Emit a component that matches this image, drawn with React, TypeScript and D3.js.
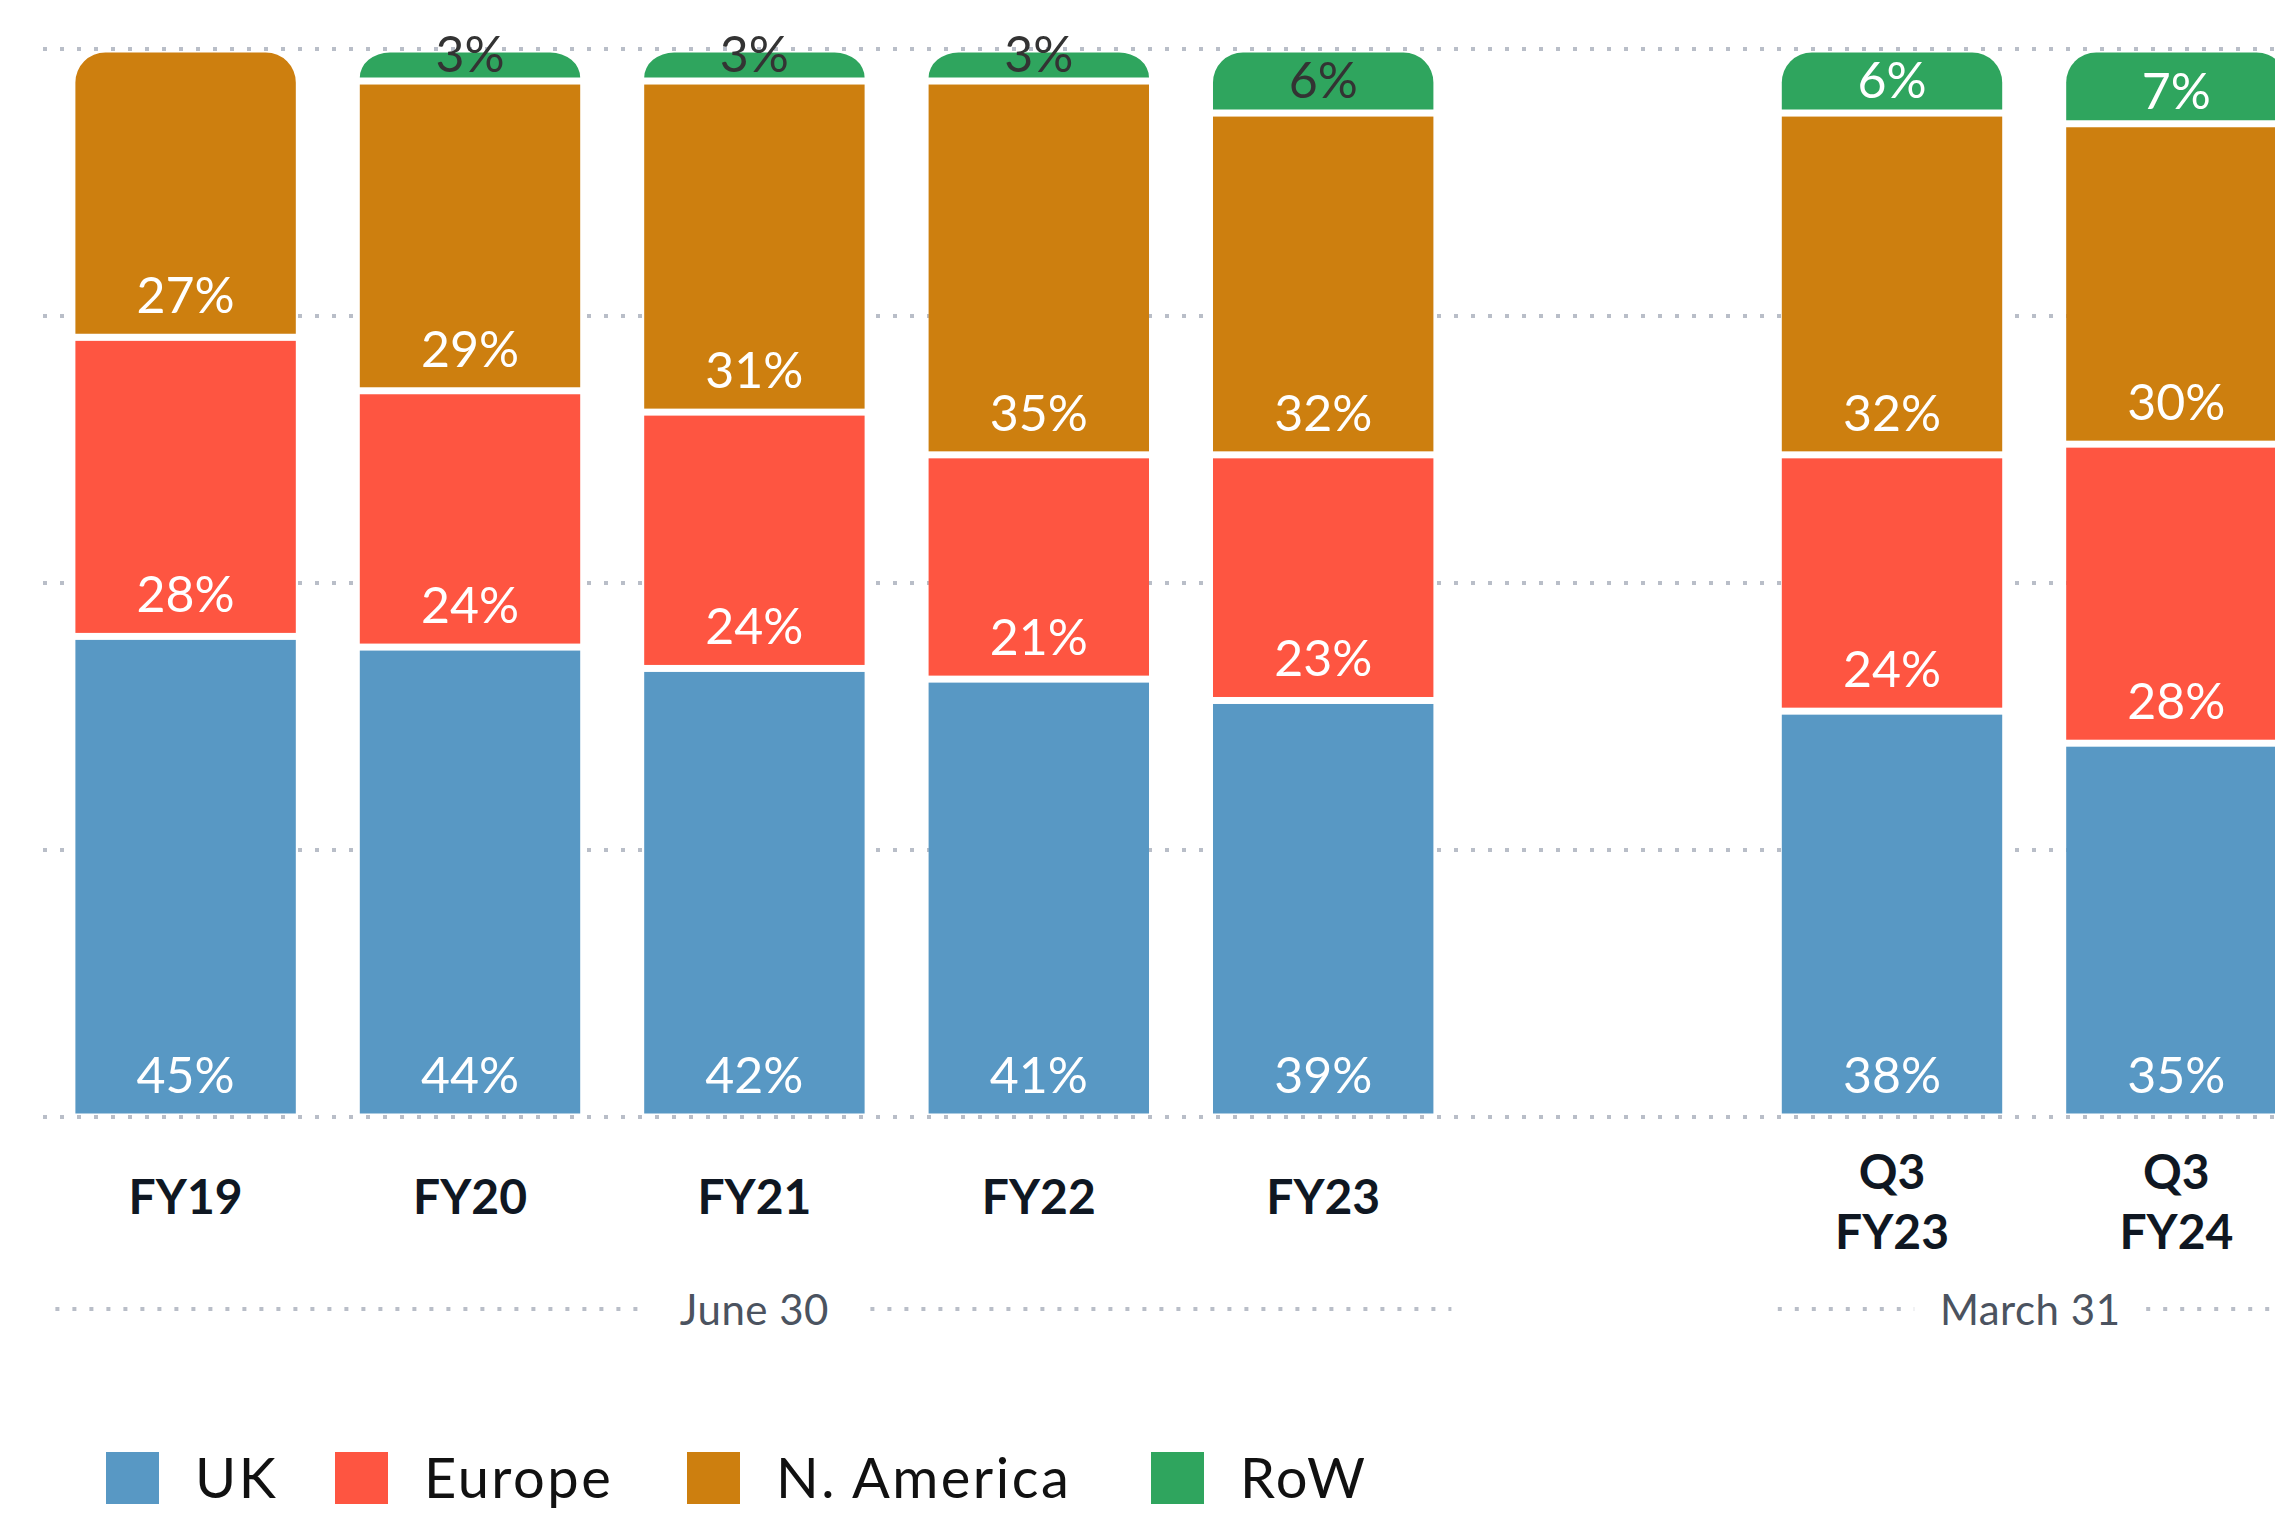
import React, { useEffect } from "react";
import * as d3 from "d3";

// ---------- data ----------
const categories = ["FY19", "FY20", "FY21", "FY22", "FY23", "Q3 FY23", "Q3 FY24"];
const periodOf = ["June 30", "June 30", "June 30", "June 30", "June 30", "March 31", "March 31"];
const periods = ["June 30", "March 31"];
const seriesNames = ["UK", "Europe", "N. America", "RoW"];
const ukValues = [45, 44, 42, 41, 39, 38, 35];
const europeValues = [28, 24, 24, 21, 23, 24, 28];
const nAmericaValues = [27, 29, 31, 35, 32, 32, 30];
const rowValues = [0, 3, 3, 3, 6, 6, 7];
const yTicks = [0, 25, 50, 75, 100];
const seriesColors = ["#5898c4", "#fe5541", "#cd7f0f", "#2fa55e"];
const legendX = [106, 335, 687, 1151];

// ---------- layout ----------
const W = 2275;
const H = 1523;
const FONT = "Lato, 'Open Sans', 'Noto Sans', sans-serif";
const GAP = 3.5;

function topRoundedPath(x: number, y0: number, w: number, h: number, r: number) {
  const rx = Math.min(r, w / 2);
  const ry = Math.min(r, h);
  const y1 = y0 + h;
  return `M${x},${y1}L${x},${y0 + ry}A${rx},${ry} 0 0 1 ${x + rx},${y0}L${x + w - rx},${y0}A${rx},${ry} 0 0 1 ${x + w},${y0 + ry}L${x + w},${y1}Z`;
}

export default function App() {
  useEffect(() => {
    document.body.style.margin = "0";
    document.body.style.overflow = "hidden";
  }, []);

  const rows = categories.map((c, i) => ({
    cat: c,
    period: periodOf[i],
    UK: ukValues[i],
    Europe: europeValues[i],
    "N. America": nAmericaValues[i],
    RoW: rowValues[i],
  }));

  // band slots: periods separated by an empty slot
  const slots: string[] = [];
  periods.forEach((p, pi) => {
    if (pi > 0) slots.push(`__gap${pi}`);
    categories.forEach((c, i) => {
      if (periodOf[i] === p) slots.push(c);
    });
  });

  const x = d3
    .scaleBand<string>()
    .domain(slots)
    .range([43.4, 2318.6])
    .paddingInner(0.225)
    .paddingOuter(0.1125);
  const bw = x.bandwidth();
  const y = d3.scaleLinear().domain([0, 100]).range([1117, 49]);

  const stacked = d3.stack<any>().keys(seriesNames)(rows);

  const topIdx = rows.map((r) => {
    let t = 0;
    seriesNames.forEach((s, si) => {
      if ((r as any)[s] > 0) t = si;
    });
    return t;
  });

  const gridX0 = 43;

  return (
    <svg
      width={W}
      height={H}
      viewBox={`0 0 ${W} ${H}`}
      style={{ position: "absolute", left: 0, top: 0, background: "#fff" }}
      fontFamily={FONT}
    >
      <rect x={0} y={0} width={W} height={H} fill="#fff" />
      {/* gridlines */}
      <g>
        {yTicks.map((t) => (
          <line
            key={t}
            x1={gridX0}
            x2={W}
            y1={y(t)}
            y2={y(t)}
            stroke="#b9bec8"
            strokeWidth={4}
            strokeDasharray="4 13"
          />
        ))}
      </g>

      {/* bars */}
      <g>
        {stacked.map((layer, si) =>
          layer.map((d, ci) => {
            const v = d[1] - d[0];
            if (v <= 0) return null;
            const cat = rows[ci].cat;
            const bx = x(cat)!;
            const top = y(d[1]) + GAP;
            const bottom = y(d[0]) - GAP;
            const h = bottom - top;
            const isTop = topIdx[ci] === si;
            return isTop ? (
              <path key={`${si}-${ci}`} d={topRoundedPath(bx, top, bw, h, 30)} fill={seriesColors[si]} />
            ) : (
              <rect key={`${si}-${ci}`} x={bx} y={top} width={bw} height={h} fill={seriesColors[si]} />
            );
          })
        )}
      </g>

      {/* value labels */}
      <g>
        {stacked.map((layer, si) =>
          layer.map((d, ci) => {
            const v = d[1] - d[0];
            if (v <= 0) return null;
            const cat = rows[ci].cat;
            const cx = x(cat)! + bw / 2;
            const segBottom = y(d[0]);
            const isRow = seriesNames[si] === "RoW";
            const baseline = isRow ? Math.max(segBottom - 15, y(100) + 23) : segBottom - 24;
            const color = isRow && rows[ci].period === periods[0] ? "#333333" : "#ffffff";
            return (
              <text
                key={`l${si}-${ci}`}
                x={cx}
                y={baseline}
                textAnchor="middle"
                fontSize={50}
                fontWeight={400}
                fill={color}
              >
                {`${v}%`}
              </text>
            );
          })
        )}
      </g>

      {/* category labels */}
      <g>
        {rows.map((r) => {
          const cx = x(r.cat)! + bw / 2;
          const parts = r.cat.split(" ");
          if (parts.length === 1) {
            return (
              <text key={r.cat} x={cx} y={1214} textAnchor="middle" fontSize={48} fontWeight={700} fill="#0f1722">
                {r.cat}
              </text>
            );
          }
          return (
            <text key={r.cat} x={cx} textAnchor="middle" fontSize={48} fontWeight={700} fill="#0f1722">
              {parts.map((p, k) => (
                <tspan key={k} x={cx} y={1189 + k * 60}>
                  {p}
                </tspan>
              ))}
            </text>
          );
        })}
      </g>

      {/* period group labels */}
      <g>
        {periods.map((p, pi) => {
          const cats = rows.filter((r) => r.period === p).map((r) => r.cat);
          const left = x(cats[0])! - (pi === 0 ? 20 : 4);
          const right = Math.min(W, x(cats[cats.length - 1])! + bw + 18);
          const cx = (x(cats[0])! + x(cats[cats.length - 1])! + bw) / 2 - (pi === 0 ? 0 : 4);
          const half = 116;
          return (
            <g key={p}>
              <line x1={left} x2={cx - half} y1={1309} y2={1309} stroke="#b9bec8" strokeWidth={4} strokeDasharray="4 13" />
              <line x1={cx + half} x2={right} y1={1309} y2={1309} stroke="#b9bec8" strokeWidth={4} strokeDasharray="4 13" />
              <text x={cx} y={1325} textAnchor="middle" fontSize={42} fill="#4b5360" letterSpacing={0.5}>
                {p}
              </text>
            </g>
          );
        })}
      </g>

      {/* legend */}
      <g>
        {seriesNames.map((s, i) => (
          <g key={s}>
            <rect x={legendX[i]} y={1452} width={53} height={52} fill={seriesColors[i]} />
            <text x={legendX[i] + 53 + 36} y={1498} fontSize={56} fill="#111111" letterSpacing={2.5}>
              {s}
            </text>
          </g>
        ))}
      </g>
    </svg>
  );
}
